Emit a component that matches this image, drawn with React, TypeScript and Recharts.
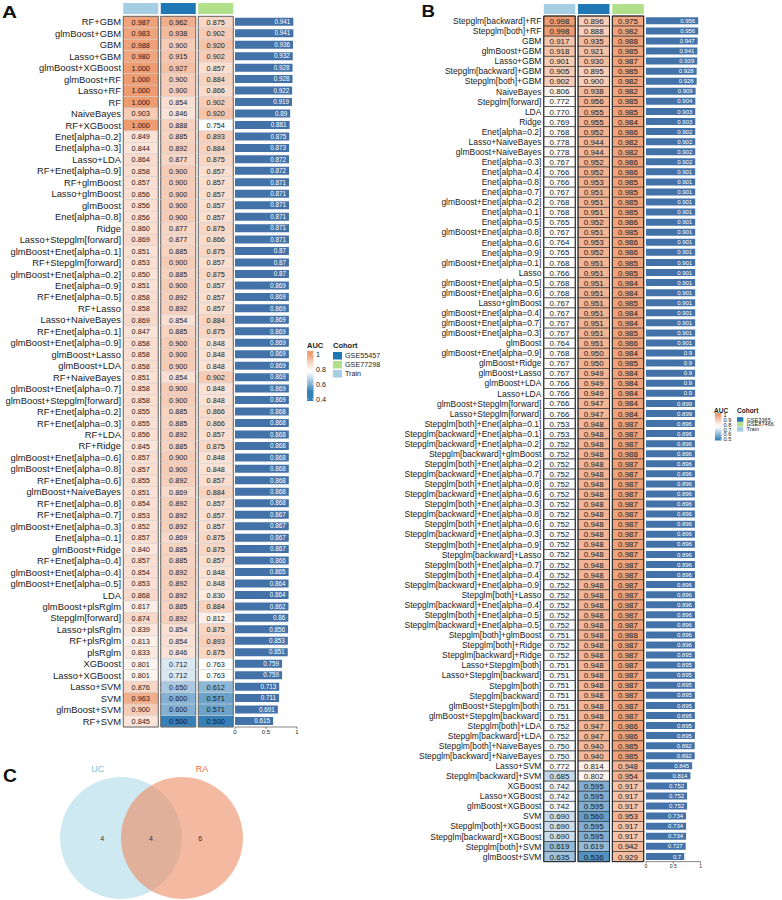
import React from "react";
import { BarChart, Bar, XAxis, YAxis, LabelList, ScatterChart, Scatter } from "recharts";

const FONT = '"Liberation Sans", Arial, Helvetica, sans-serif';
const INK = "#1a1a1a";
const BAR_BLUE = "#4372a8";
const COHORT_COLORS = ["#a6cee3", "#1f78b4", "#b2df8a"];

// ---------- panel A : GSE55457 / GSE77298 ----------
const cohortsA = ["Train", "GSE55457", "GSE77298"];
const modelsA = [
  "RF+GBM", "glmBoost+GBM", "GBM", "Lasso+GBM", "glmBoost+XGBoost", "glmBoost+RF", "Lasso+RF", "RF", "NaiveBayes", "RF+XGBoost",
  "Enet[alpha=0.2]", "Enet[alpha=0.3]", "Lasso+LDA", "RF+Enet[alpha=0.9]", "RF+glmBoost", "Lasso+glmBoost", "glmBoost", "Enet[alpha=0.8]", "Ridge", "Lasso+Stepglm[forward]",
  "glmBoost+Enet[alpha=0.1]", "RF+Stepglm[forward]", "glmBoost+Enet[alpha=0.2]", "Enet[alpha=0.9]", "RF+Enet[alpha=0.5]", "RF+Lasso", "Lasso+NaiveBayes", "RF+Enet[alpha=0.1]", "glmBoost+Enet[alpha=0.9]", "glmBoost+Lasso",
  "glmBoost+LDA", "RF+NaiveBayes", "glmBoost+Enet[alpha=0.7]", "glmBoost+Stepglm[forward]", "RF+Enet[alpha=0.2]", "RF+Enet[alpha=0.3]", "RF+LDA", "RF+Ridge", "glmBoost+Enet[alpha=0.6]", "glmBoost+Enet[alpha=0.8]",
  "RF+Enet[alpha=0.6]", "glmBoost+NaiveBayes", "RF+Enet[alpha=0.8]", "RF+Enet[alpha=0.7]", "glmBoost+Enet[alpha=0.3]", "Enet[alpha=0.1]", "glmBoost+Ridge", "RF+Enet[alpha=0.4]", "glmBoost+Enet[alpha=0.4]", "glmBoost+Enet[alpha=0.5]",
  "LDA", "glmBoost+plsRglm", "Stepglm[forward]", "Lasso+plsRglm", "RF+plsRglm", "plsRglm", "XGBoost", "Lasso+XGBoost", "Lasso+SVM", "SVM", "glmBoost+SVM", "RF+SVM",
];
const trainA = [
  0.987, 0.983, 0.988, 0.980, 1.000, 1.000, 1.000, 1.000, 0.903, 1.000,
  0.849, 0.844, 0.864, 0.858, 0.857, 0.856, 0.856, 0.856, 0.860, 0.869,
  0.851, 0.853, 0.850, 0.851, 0.858, 0.858, 0.869, 0.847, 0.858, 0.858,
  0.858, 0.851, 0.858, 0.858, 0.855, 0.855, 0.856, 0.845, 0.857, 0.857,
  0.855, 0.851, 0.854, 0.853, 0.852, 0.857, 0.840, 0.857, 0.854, 0.853,
  0.868, 0.817, 0.874, 0.839, 0.813, 0.833, 0.801, 0.801, 0.876, 0.963, 0.900, 0.845,
];
const gse55457A = [
  0.962, 0.938, 0.900, 0.915, 0.927, 0.900, 0.900, 0.854, 0.846, 0.888,
  0.885, 0.892, 0.877, 0.900, 0.900, 0.900, 0.900, 0.900, 0.877, 0.877,
  0.885, 0.900, 0.885, 0.900, 0.892, 0.892, 0.854, 0.885, 0.900, 0.900,
  0.900, 0.854, 0.900, 0.900, 0.885, 0.885, 0.892, 0.885, 0.900, 0.900,
  0.892, 0.869, 0.892, 0.892, 0.892, 0.869, 0.885, 0.885, 0.892, 0.892,
  0.892, 0.885, 0.892, 0.854, 0.854, 0.846, 0.712, 0.712, 0.650, 0.600, 0.600, 0.500,
];
const gse77298A = [
  0.875, 0.902, 0.920, 0.902, 0.857, 0.884, 0.866, 0.902, 0.920, 0.754,
  0.893, 0.884, 0.875, 0.857, 0.857, 0.857, 0.857, 0.857, 0.875, 0.866,
  0.875, 0.857, 0.875, 0.857, 0.857, 0.857, 0.884, 0.875, 0.848, 0.848,
  0.848, 0.902, 0.848, 0.848, 0.866, 0.866, 0.857, 0.875, 0.848, 0.848,
  0.857, 0.884, 0.857, 0.857, 0.857, 0.875, 0.875, 0.857, 0.848, 0.848,
  0.830, 0.884, 0.812, 0.875, 0.893, 0.875, 0.763, 0.763, 0.612, 0.571, 0.571, 0.500,
];
const meanA = [
  0.941, 0.941, 0.936, 0.932, 0.928, 0.928, 0.922, 0.919, 0.89, 0.881,
  0.875, 0.873, 0.872, 0.872, 0.871, 0.871, 0.871, 0.871, 0.871, 0.871,
  0.87, 0.87, 0.87, 0.869, 0.869, 0.869, 0.869, 0.869, 0.869, 0.869,
  0.869, 0.869, 0.869, 0.869, 0.868, 0.868, 0.868, 0.868, 0.868, 0.868,
  0.868, 0.868, 0.868, 0.867, 0.867, 0.867, 0.867, 0.866, 0.865, 0.864,
  0.864, 0.862, 0.86, 0.856, 0.853, 0.851, 0.759, 0.759, 0.713, 0.711, 0.691, 0.615,
];

// ---------- panel B : GSE3365 / GSE87466 ----------
const cohortsB = ["Train", "GSE3365", "GSE87466"];
const modelsB = [
  "Stepglm[backward]+RF", "Stepglm[both]+RF", "GBM", "glmBoost+GBM", "Lasso+GBM", "Stepglm[backward]+GBM", "Stepglm[both]+GBM", "NaiveBayes", "Stepglm[forward]", "LDA",
  "Ridge", "Enet[alpha=0.2]", "Lasso+NaiveBayes", "glmBoost+NaiveBayes", "Enet[alpha=0.3]", "Enet[alpha=0.4]", "Enet[alpha=0.8]", "Enet[alpha=0.7]", "glmBoost+Enet[alpha=0.2]", "Enet[alpha=0.1]",
  "Enet[alpha=0.5]", "glmBoost+Enet[alpha=0.8]", "Enet[alpha=0.6]", "Enet[alpha=0.9]", "glmBoost+Enet[alpha=0.1]", "Lasso", "glmBoost+Enet[alpha=0.5]", "glmBoost+Enet[alpha=0.6]", "Lasso+glmBoost", "glmBoost+Enet[alpha=0.4]",
  "glmBoost+Enet[alpha=0.7]", "glmBoost+Enet[alpha=0.3]", "glmBoost", "glmBoost+Enet[alpha=0.9]", "glmBoost+Ridge", "glmBoost+Lasso", "glmBoost+LDA", "Lasso+LDA", "glmBoost+Stepglm[forward]", "Lasso+Stepglm[forward]",
  "Stepglm[both]+Enet[alpha=0.1]", "Stepglm[backward]+Enet[alpha=0.1]", "Stepglm[backward]+Enet[alpha=0.2]", "Stepglm[backward]+glmBoost", "Stepglm[both]+Enet[alpha=0.2]", "Stepglm[backward]+Enet[alpha=0.7]", "Stepglm[both]+Enet[alpha=0.8]", "Stepglm[backward]+Enet[alpha=0.6]", "Stepglm[both]+Enet[alpha=0.3]", "Stepglm[backward]+Enet[alpha=0.8]",
  "Stepglm[both]+Enet[alpha=0.6]", "Stepglm[backward]+Enet[alpha=0.3]", "Stepglm[both]+Enet[alpha=0.9]", "Stepglm[backward]+Lasso", "Stepglm[both]+Enet[alpha=0.7]", "Stepglm[both]+Enet[alpha=0.4]", "Stepglm[backward]+Enet[alpha=0.9]", "Stepglm[both]+Lasso", "Stepglm[backward]+Enet[alpha=0.4]", "Stepglm[both]+Enet[alpha=0.5]",
  "Stepglm[backward]+Enet[alpha=0.5]", "Stepglm[both]+glmBoost", "Stepglm[both]+Ridge", "Stepglm[backward]+Ridge", "Lasso+Stepglm[both]", "Lasso+Stepglm[backward]", "Stepglm[both]", "Stepglm[backward]", "glmBoost+Stepglm[both]", "glmBoost+Stepglm[backward]",
  "Stepglm[both]+LDA", "Stepglm[backward]+LDA", "Stepglm[both]+NaiveBayes", "Stepglm[backward]+NaiveBayes", "Lasso+SVM", "Stepglm[backward]+SVM", "XGBoost", "Lasso+XGBoost", "glmBoost+XGBoost", "SVM",
  "Stepglm[both]+XGBoost", "Stepglm[backward]+XGBoost", "Stepglm[both]+SVM", "glmBoost+SVM",
];
const trainB = [
  0.998, 0.998, 0.917, 0.918, 0.901, 0.905, 0.902, 0.806, 0.772, 0.770,
  0.769, 0.768, 0.778, 0.778, 0.767, 0.766, 0.766, 0.767, 0.768, 0.768,
  0.765, 0.767, 0.764, 0.765, 0.768, 0.766, 0.768, 0.768, 0.767, 0.767,
  0.767, 0.767, 0.764, 0.768, 0.767, 0.767, 0.766, 0.766, 0.766, 0.766,
  0.753, 0.753, 0.752, 0.752, 0.752, 0.752, 0.752, 0.752, 0.752, 0.752,
  0.752, 0.752, 0.752, 0.752, 0.752, 0.752, 0.752, 0.752, 0.752, 0.752,
  0.752, 0.751, 0.752, 0.752, 0.751, 0.751, 0.751, 0.751, 0.751, 0.751,
  0.752, 0.752, 0.750, 0.750, 0.772, 0.685, 0.742, 0.742, 0.742, 0.690,
  0.690, 0.690, 0.619, 0.635,
];
const gse3365B = [
  0.896, 0.888, 0.935, 0.921, 0.930, 0.895, 0.900, 0.938, 0.956, 0.955,
  0.955, 0.952, 0.944, 0.944, 0.952, 0.952, 0.953, 0.951, 0.951, 0.951,
  0.952, 0.951, 0.953, 0.952, 0.951, 0.951, 0.951, 0.951, 0.951, 0.951,
  0.951, 0.951, 0.951, 0.950, 0.950, 0.949, 0.949, 0.949, 0.947, 0.947,
  0.948, 0.948, 0.948, 0.948, 0.948, 0.948, 0.948, 0.948, 0.948, 0.948,
  0.948, 0.948, 0.948, 0.948, 0.948, 0.948, 0.948, 0.948, 0.948, 0.948,
  0.948, 0.948, 0.948, 0.948, 0.948, 0.948, 0.948, 0.948, 0.948, 0.948,
  0.947, 0.947, 0.940, 0.940, 0.814, 0.802, 0.595, 0.595, 0.595, 0.560,
  0.595, 0.595, 0.619, 0.536,
];
const gse87466B = [
  0.975, 0.982, 0.988, 0.985, 0.987, 0.985, 0.982, 0.982, 0.985, 0.985,
  0.984, 0.986, 0.982, 0.982, 0.986, 0.986, 0.985, 0.985, 0.985, 0.985,
  0.986, 0.985, 0.986, 0.986, 0.985, 0.985, 0.984, 0.984, 0.985, 0.984,
  0.984, 0.985, 0.986, 0.984, 0.985, 0.984, 0.984, 0.984, 0.984, 0.984,
  0.987, 0.987, 0.987, 0.988, 0.987, 0.987, 0.987, 0.987, 0.987, 0.987,
  0.987, 0.987, 0.987, 0.987, 0.987, 0.987, 0.987, 0.987, 0.987, 0.987,
  0.987, 0.988, 0.987, 0.987, 0.987, 0.987, 0.987, 0.987, 0.987, 0.987,
  0.986, 0.986, 0.985, 0.985, 0.948, 0.954, 0.917, 0.917, 0.917, 0.953,
  0.917, 0.917, 0.942, 0.929,
];
const meanB = [
  0.956, 0.956, 0.947, 0.941, 0.939, 0.928, 0.928, 0.909, 0.904, 0.903,
  0.903, 0.902, 0.902, 0.902, 0.902, 0.901, 0.901, 0.901, 0.901, 0.901,
  0.901, 0.901, 0.901, 0.901, 0.901, 0.901, 0.901, 0.901, 0.901, 0.901,
  0.901, 0.901, 0.901, 0.9, 0.9, 0.9, 0.9, 0.9, 0.899, 0.899,
  0.896, 0.896, 0.896, 0.896, 0.896, 0.896, 0.896, 0.896, 0.896, 0.896,
  0.896, 0.896, 0.896, 0.896, 0.896, 0.896, 0.896, 0.896, 0.896, 0.896,
  0.896, 0.896, 0.896, 0.895, 0.895, 0.895, 0.895, 0.895, 0.895, 0.895,
  0.895, 0.895, 0.892, 0.892, 0.845, 0.814, 0.752, 0.752, 0.752, 0.734,
  0.734, 0.734, 0.727, 0.7,
];

// ---------- panel C : shared genes ----------
const vennSets = ["UC", "RA"];
const vennCounts = [4, 4, 6]; // UC only, both, RA only

type Row = { model: string; mean: number; [k: string]: any };

const buildRows = (models: string[], cohorts: string[], cols: number[][], mean: number[]): Row[] =>
  models.map((m, i) => {
    const r: Row = { model: m, mean: mean[i] };
    cohorts.forEach((c, j) => (r[c] = cols[j][i]));
    return r;
  });

const rowsA = buildRows(modelsA, cohortsA, [trainA, gse55457A, gse77298A], meanA);
const rowsB = buildRows(modelsB, cohortsB, [trainB, gse3365B, gse87466B], meanB);

// blue -> white -> orange ramp for AUC
const LOW = [53, 128, 184];
const MID = [255, 255, 255];
const HIGH = [239, 155, 112];
const MID_AT = 0.76;

function aucColor(v: number) {
  const mix = (a: number[], b: number[], t: number) => a.map((c, i) => Math.round(c + (b[i] - c) * t));
  const rgb =
    v >= MID_AT
      ? mix(MID, HIGH, Math.pow(Math.min(1, (v - MID_AT) / (1 - MID_AT)), 1.25))
      : mix(MID, LOW, Math.min(1, (MID_AT - v) / (MID_AT - 0.5)));
  return `rgb(${rgb.join(",")})`;
}

type HeatProps = {
  rows: Row[];
  cohorts: string[];
  left: number;
  labelW: number;
  unit: number;
  inset: number;
  top: number;
  bottom: number;
  headTop: number;
  headBottom: number;
  labelSize: number;
  cellSize: number;
  cellStroke: string;
  cellStrokeW: number;
  edge: string;
  edgeW: number;
};

function Heatmap(p: HeatProps) {
  const cells = p.rows.flatMap((r) => p.cohorts.map((c) => ({ model: r.model, cohort: c, auc: r[c] as number })));
  const n = p.rows.length;
  const rowH = (p.bottom - p.top) / n;
  const width = p.labelW + p.unit * p.cohorts.length + 4;
  const height = p.bottom + 2;
  const first = p.rows[0].model;
  const last = p.rows[n - 1].model;
  const w = p.unit - 2 * p.inset;

  const renderCell = (s: any) => {
    const d = s.payload;
    const x0 = s.cx - w / 2;
    const y0 = s.cy - rowH / 2;
    return (
      <g>
        <rect x={x0} y={y0} width={w} height={rowH} fill={aucColor(d.auc)} stroke={p.cellStroke} strokeWidth={p.cellStrokeW} />
        <line x1={x0} x2={x0} y1={y0} y2={y0 + rowH} stroke={p.edge} strokeWidth={p.edgeW} />
        <line x1={x0 + w} x2={x0 + w} y1={y0} y2={y0 + rowH} stroke={p.edge} strokeWidth={p.edgeW} />
        {d.model === first && <line x1={x0} x2={x0 + w} y1={y0} y2={y0} stroke={p.edge} strokeWidth={p.edgeW} />}
        {d.model === last && <line x1={x0} x2={x0 + w} y1={y0 + rowH} y2={y0 + rowH} stroke={p.edge} strokeWidth={p.edgeW} />}
        <text x={s.cx} y={s.cy} dy="0.36em" textAnchor="middle" fontSize={p.cellSize} fill={INK} fontFamily={FONT}>
          {d.auc.toFixed(3)}
        </text>
      </g>
    );
  };

  // cohort strip drawn as the top axis ticks
  const renderHead = (t: any) => {
    const i = p.cohorts.indexOf(t.payload.value);
    return <rect x={t.x - w / 2} y={p.headTop} width={w} height={p.headBottom - p.headTop} fill={COHORT_COLORS[i]} />;
  };

  return (
    <div style={{ position: "absolute", left: p.left, top: 0 }}>
      <ScatterChart width={width} height={height} margin={{ top: 0, right: 4, bottom: height - p.bottom, left: 0 }}>
        <XAxis
          type="category"
          dataKey="cohort"
          orientation="top"
          height={p.top}
          allowDuplicatedCategory={false}
          axisLine={false}
          tickLine={false}
          tickSize={0}
          interval={0}
          tick={renderHead}
        />
        <YAxis
          type="category"
          dataKey="model"
          width={p.labelW}
          reversed
          allowDuplicatedCategory={false}
          axisLine={false}
          tickLine={false}
          tickSize={0}
          tickMargin={1}
          interval={0}
          tick={{ fontSize: p.labelSize, fill: INK, fontFamily: FONT }}
        />
        <Scatter data={cells} shape={renderCell} isAnimationActive={false} />
      </ScatterChart>
    </div>
  );
}

type MeanProps = {
  rows: Row[];
  zeroX: number;
  unitPx: number;
  top: number;
  bottom: number;
  gap: number;
  valueSize: number;
  tickSize: number;
};

function MeanBars(p: MeanProps) {
  const pad = 6;
  const axisH = 12;
  const width = pad + p.unitPx + 8;
  const height = p.bottom + axisH;
  return (
    <div style={{ position: "absolute", left: p.zeroX - pad, top: 0 }}>
      <BarChart
        layout="vertical"
        width={width}
        height={height}
        data={p.rows}
        margin={{ top: p.top, right: 8, bottom: 0, left: pad }}
        barCategoryGap={p.gap}
      >
        <XAxis
          type="number"
          domain={[0, 1]}
          ticks={[0, 0.5, 1]}
          height={axisH}
          tickSize={2}
          tickMargin={1}
          axisLine={{ stroke: "#333", strokeWidth: 0.6 }}
          tickLine={{ stroke: "#333", strokeWidth: 0.6 }}
          tick={{ fontSize: p.tickSize, fill: INK, fontFamily: FONT }}
        />
        <YAxis type="category" dataKey="model" hide width={0} />
        <Bar dataKey="mean" fill={BAR_BLUE} isAnimationActive={false}>
          <LabelList
            dataKey="mean"
            position="insideRight"
            offset={3}
            fill="#ffffff"
            fontSize={p.valueSize}
            fontFamily={FONT}
          />
        </Bar>
      </BarChart>
    </div>
  );
}

const VENN_PX = 61; // pixels per unit, circle radius = 1 unit
const VENN_W = 260;
const VENN_H = 140;
const VENN_CX = 121;
const VENN_CY = 78;

function Venn() {
  const setFill = ["#9dd3e4", "#ec8a62"];
  const setOpacity = [0.5, 0.6];
  const setText = ["#72c4da", "#ee6a45"];
  const circles = vennSets.map((s, i) => ({ set: s, x: i, y: 0, i }));
  const regionX = [-0.31, 0.49, 1.3];
  const counts = vennCounts.map((n, i) => ({ n, x: regionX[i], y: 0 }));

  const renderCircle = (s: any) => {
    const i = s.payload.i;
    const lx = s.cx + (i === 0 ? -0.38 : 0.33) * VENN_PX;
    return (
      <g>
        <circle cx={s.cx} cy={s.cy} r={VENN_PX} fill={setFill[i]} fillOpacity={setOpacity[i]} />
        <text x={lx} y={s.cy - VENN_PX - 8} dy="0.36em" textAnchor="middle" fontSize={9} fill={setText[i]} fontFamily={FONT}>
          {s.payload.set}
        </text>
      </g>
    );
  };
  const renderCount = (s: any) => (
    <text x={s.cx} y={s.cy} dy="0.36em" textAnchor="middle" fontSize={7} fill="#333" fontFamily={FONT}>
      {s.payload.n}
    </text>
  );

  return (
    <div style={{ position: "absolute", left: 0, top: 760 }}>
      <ScatterChart width={VENN_W} height={VENN_H} margin={{ top: 0, right: 0, bottom: 0, left: 0 }}>
        <XAxis type="number" dataKey="x" hide height={0} domain={[-VENN_CX / VENN_PX, (VENN_W - VENN_CX) / VENN_PX]} />
        <YAxis type="number" dataKey="y" hide width={0} domain={[-(VENN_H - VENN_CY) / VENN_PX, VENN_CY / VENN_PX]} />
        <Scatter data={circles} shape={renderCircle} isAnimationActive={false} />
        <Scatter data={counts} shape={renderCount} isAnimationActive={false} />
      </ScatterChart>
    </div>
  );
}

function gradStops(hi: number, lo: number) {
  const vals = [1, 0.95, 0.9, 0.85, 0.8, MID_AT, 0.7, 0.6, 0.5, 0.4];
  return vals
    .filter((v) => v <= hi && v >= lo)
    .map((v) => ({ off: (hi - v) / (hi - lo), color: aucColor(v) }));
}

function Overlay() {
  const gA = gradStops(1.04, 0.373);
  const gB = gradStops(1.04, 0.484);
  const bold = { fontFamily: FONT, fontWeight: 700, fill: INK } as const;
  const plain = { fontFamily: FONT, fill: INK } as const;
  return (
    <svg width={782} height={900} style={{ position: "absolute", left: 0, top: 0, pointerEvents: "none" }}>
      <defs>
        <linearGradient id="aucA" x1="0" y1="0" x2="0" y2="1">
          {gA.map((s, i) => <stop key={i} offset={s.off} stopColor={s.color} />)}
        </linearGradient>
        <linearGradient id="aucB" x1="0" y1="0" x2="0" y2="1">
          {gB.map((s, i) => <stop key={i} offset={s.off} stopColor={s.color} />)}
        </linearGradient>
      </defs>

      {/* panel tags */}
      <text x={2} y={17.5} fontSize={16} fontWeight={900} fontFamily={FONT} fill="#111" textLength={15} lengthAdjust="spacingAndGlyphs">A</text>
      <text x={421.5} y={17} fontSize={16} fontWeight={900} fontFamily={FONT} fill="#111" textLength={13.5} lengthAdjust="spacingAndGlyphs">B</text>
      <text x={3} y={782} fontSize={19} fontWeight={900} fontFamily={FONT} fill="#111" textLength={14} lengthAdjust="spacingAndGlyphs">C</text>

      {/* legend A */}
      <text x={307} y={348} fontSize={7.5} {...bold}>AUC</text>
      <rect x={307} y={351} width={6.5} height={50} fill="url(#aucA)" />
      {[1, 0.8, 0.6, 0.4].map((v) => (
        <g key={v}>
          <line x1={307} x2={308.5} y1={354 + (1 - v) * 75} y2={354 + (1 - v) * 75} stroke="#fff" strokeWidth={0.6} />
          <line x1={312} x2={313.5} y1={354 + (1 - v) * 75} y2={354 + (1 - v) * 75} stroke="#fff" strokeWidth={0.6} />
          <text x={316} y={354 + (1 - v) * 75} dy="0.36em" fontSize={7.2} {...plain}>{String(v)}</text>
        </g>
      ))}
      <text x={333} y={348} fontSize={7.5} {...bold}>Cohort</text>
      {["GSE55457", "GSE77298", "Train"].map((c, i) => (
        <g key={c}>
          <rect x={333} y={352 + i * 9} width={9} height={7.5} fill={COHORT_COLORS[[1, 2, 0][i]]} />
          <text x={345} y={355.8 + i * 9} dy="0.36em" fontSize={7.2} {...plain}>{c}</text>
        </g>
      ))}

      {/* legend B */}
      <text x={714} y={412.5} fontSize={6.5} {...bold}>AUC</text>
      <rect x={715} y={413} width={6.5} height={27.5} fill="url(#aucB)" />
      {[1, 0.9, 0.8, 0.7, 0.6, 0.5].map((v) => (
        <g key={v}>
          <line x1={720.3} x2={721.5} y1={415 + (1 - v) * 48.5} y2={415 + (1 - v) * 48.5} stroke="#fff" strokeWidth={0.5} />
          <text x={723.5} y={415 + (1 - v) * 48.5} dy="0.36em" fontSize={5.6} {...plain}>{String(v)}</text>
        </g>
      ))}
      <text x={737} y={412.5} fontSize={6.5} {...bold}>Cohort</text>
      {["GSE3365", "GSE87466", "Train"].map((c, i) => (
        <g key={c}>
          <rect x={737} y={417.2 + i * 4.9} width={6.3} height={4.6} fill={COHORT_COLORS[[1, 2, 0][i]]} />
          <text x={746.5} y={419.5 + i * 4.9} dy="0.36em" fontSize={5.6} {...plain}>{c}</text>
        </g>
      ))}
    </svg>
  );
}

export default function App() {
  return (
    <div style={{ position: "absolute", left: 0, top: 0, width: 782, height: 900, background: "#fff", overflow: "hidden" }}>
      <Heatmap
        rows={rowsA}
        cohorts={cohortsA}
        left={0}
        labelW={122}
        unit={37.5}
        inset={1.25}
        top={16.3}
        bottom={727}
        headTop={3}
        headBottom={14}
        labelSize={9.4}
        cellSize={7.3}
        cellStroke="#cfcfcf"
        cellStrokeW={0.5}
        edge="#555"
        edgeW={0.9}
      />
      <MeanBars rows={rowsA} zeroX={235} unitPx={62} top={16.3} bottom={727} gap={1.5} valueSize={6.3} tickSize={6} />

      <Heatmap
        rows={rowsB}
        cohorts={cohortsB}
        left={380}
        labelW={162.4}
        unit={34.25}
        inset={1.4}
        top={16}
        bottom={861.7}
        headTop={4}
        headBottom={14}
        labelSize={8.5}
        cellSize={8}
        cellStroke="#3a3a3a"
        cellStrokeW={0.7}
        edge="#222"
        edgeW={1}
      />
      <MeanBars rows={rowsB} zeroX={645.7} unitPx={54.6} top={16} bottom={861.7} gap={1.3} valueSize={6} tickSize={5} />

      <Venn />
      <Overlay />
    </div>
  );
}
